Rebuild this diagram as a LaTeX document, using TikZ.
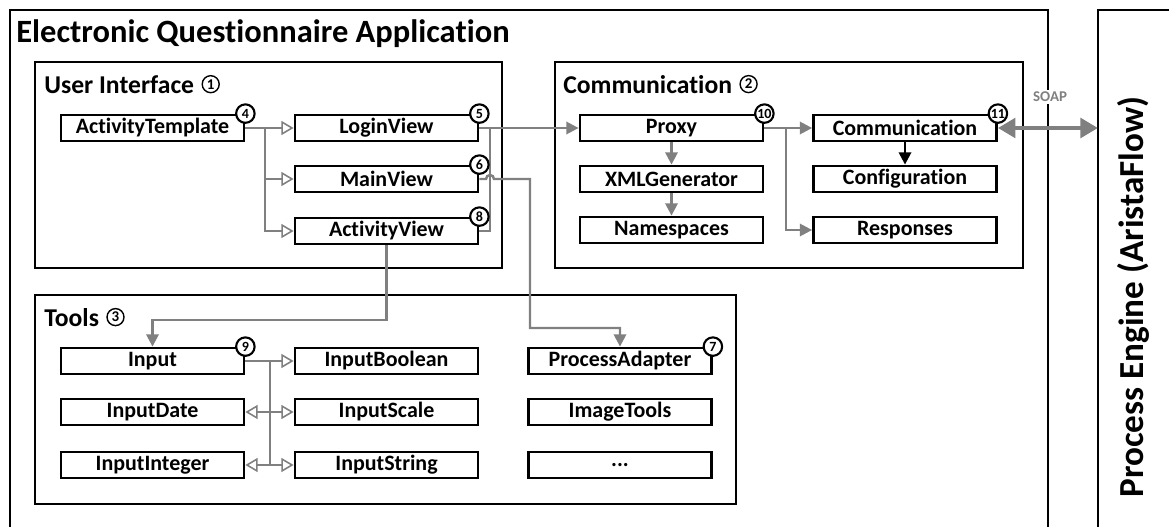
\documentclass[tikz,border=0pt]{standalone}
\usepackage{fontspec}
\setmainfont[Ligatures=NoCommon]{Carlito}
\usepackage{tikz}
\usetikzlibrary{positioning,calc,arrows.meta}
\definecolor{lgray}{RGB}{128,128,128}
\tikzset{grp/.style={draw, line width=1.6pt}}
\tikzset{cls/.style={draw, fill=white, line width=1.6pt, minimum width=3.66cm, minimum height=0.52cm, inner sep=0pt, font=\fontsize{12.5}{14}\selectfont\bfseries}}
\tikzset{num/.style={circle, draw, fill=white, line width=1.2pt, inner sep=0pt, minimum size=0.37cm, font=\fontsize{8}{9}\selectfont\bfseries}}
\tikzset{hnum/.style={circle, draw, line width=0.8pt, inner sep=0pt, minimum size=0.34cm, font=\fontsize{8.5}{9}\selectfont\bfseries}}
\tikzset{head/.style={anchor=base west, inner sep=0pt, font=\fontsize{14.6}{17}\selectfont\bfseries}}
\tikzset{inh/.style={draw=lgray, line width=0.9pt, -{Triangle[open, length=7pt, width=8pt]}}}
\tikzset{asc/.style={draw=lgray, line width=1.4pt, -{Triangle[length=7pt, width=7pt]}}}
\tikzset{soap/.style={draw=lgray, line width=2.6pt, {Triangle[length=10pt, width=11pt]}-{Triangle[length=10pt, width=11pt]}}}

\begin{document}
\begin{tikzpicture}[x=0.02cm, y=-0.02cm]
    \useasboundingbox (0,0) rectangle (1169,527);
    % frames
    \draw[grp] (10,527) -- (10,10) -- (1048,10) -- (1048,527);
    \draw[grp] (1098,527) -- (1098,10) -- (1169,10);
    \node[anchor=base west, inner sep=0pt, font=\fontsize{18.5}{21}\selectfont\bfseries] (title) at (16,43) {Electronic Questionnaire Application};
    \node[rotate=90, font=\fontsize{20}{24}\selectfont\bfseries] (PE) at (1133,297) {Process Engine (AristaFlow)};
    \coordinate (peL) at (1098,128);
    %
    \draw[grp] (35,62) rectangle (502,268);
    \draw[grp] (555,62) rectangle (1023,268);
    \draw[grp] (35,295) rectangle (736,504);
    \node[head] (hUI) at (44,93) {User Interface};
    \node[hnum, right=0.14cm of hUI] (h1) {1};
    \node[head] (hCO) at (563,93) {Communication};
    \node[hnum, right=0.14cm of hCO] (h2) {2};
    \node[head] (hTO) at (44,326) {Tools};
    \node[hnum, right=0.14cm of hTO] (h3) {3};
    %
    \node[cls] (AT) at (152.5,128) {ActivityTemplate};
    \node[cls] (LV) at (386.5,128) {LoginView};
    \node[cls] (MV) at (386.5,179) {MainView};
    \node[cls] (AV) at (386.5,231) {ActivityView};
    \node[cls] (PX) at (671.5,128) {Proxy};
    \node[cls] (XG) at (671.5,179) {XMLGenerator};
    \node[cls] (NS) at (671.5,230) {Namespaces};
    \node[cls] (CM) at (905,128) {Communication};
    \node[cls] (CF) at (905,179) {Configuration};
    \node[cls] (RS) at (905,230) {Responses};
    \node[cls] (IN) at (152.5,361) {Input};
    \node[cls] (ID) at (152.5,412) {InputDate};
    \node[cls] (II) at (152.5,465) {InputInteger};
    \node[cls] (IB) at (386.5,361) {InputBoolean};
    \node[cls] (IS) at (386.5,412) {InputScale};
    \node[cls] (IT) at (386.5,465) {InputString};
    \node[cls] (PA) at (620,361) {ProcessAdapter};
    \node[cls] (IM) at (620,412) {ImageTools};
    \node[cls] (DT) at (620,465) {...};
    %
    \coordinate (j1) at (265,128);
    \draw[inh] (AT.east) -- (j1) -- (LV.west);
    \draw[inh] (j1) |- (MV.west);
    \draw[inh] (j1) |- (AV.west);
    \coordinate (j2) at (270,361);
    \draw[inh] (IN.east) -- (j2) -- (IB.west);
    \draw[inh] (j2) |- (IS.west);
    \draw[inh] (j2) |- (IT.west);
    \draw[inh] (j2) |- (ID.east);
    \draw[inh] (j2) |- (II.east);
    %
    \draw[asc] (LV.east) -- (PX.west);
    \draw[asc, -] (AV.east) -| (490,128);
    \coordinate (m1) at (530,328);
    \draw[asc] (MV.east) -- (486,179) arc[start angle=180, end angle=0, radius=0.08cm] -| (m1) -| (PA.north);
    \coordinate (a1) at (152.5,320);
    \draw[asc] (AV.south) |- (a1) -- (IN.north);
    \draw[asc] (PX) -- (XG);
    \draw[asc] (XG) -- (NS);
    \coordinate (j3) at (786,128);
    \draw[asc] (PX.east) -- (j3) -- (CM.west);
    \draw[asc] (j3) |- (RS.west);
    \draw[line width=1.4pt, -{Triangle[length=7pt, width=7pt]}] (CM) -- (CF);
    %
    \node[font=\fontsize{8.5}{9}\selectfont\bfseries, text=lgray, fill=white, inner sep=1pt] (sp) at (1050,97) {SOAP};
    \draw[soap] (CM.east) -- (peL);
    %
    \node[num] (n4) at (AT.north east) {4};
    \node[num] (n5) at (LV.north east) {5};
    \node[num] (n6) at (MV.north east) {6};
    \node[num] (n8) at (AV.north east) {8};
    \node[num] (n10) at (PX.north east) {10};
    \node[num] (n11) at (CM.north east) {11};
    \node[num] (n9) at (IN.north east) {9};
    \node[num] (n7) at (PA.north east) {7};
\end{tikzpicture}
\end{document}
